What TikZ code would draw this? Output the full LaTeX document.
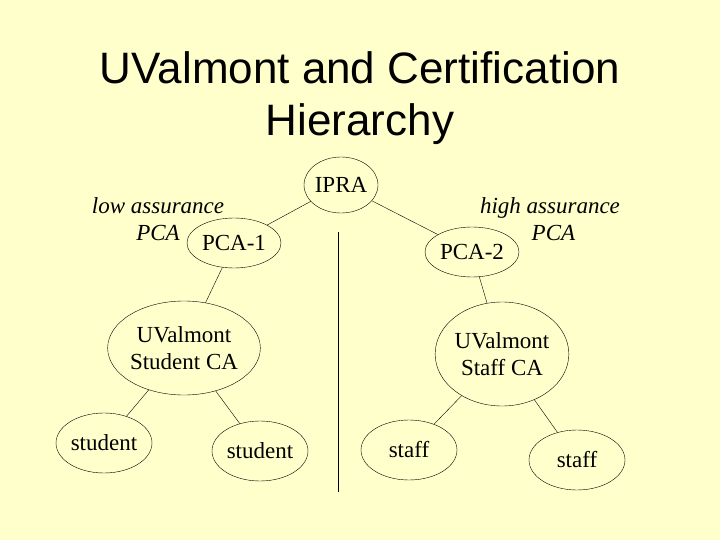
\documentclass[tikz,border=0pt]{standalone}
\usepackage{fontspec}
\setmainfont{Liberation Serif}
\newfontfamily\titlefont{Liberation Sans}
\usetikzlibrary{shapes.geometric}
\definecolor{bg}{RGB}{255,255,204}
\begin{document}
\begin{tikzpicture}[x=1pt,y=-1pt,
  ell/.style={draw,ellipse,thin,minimum width=#1,inner sep=0pt,align=center,font=\fontsize{23}{27}\selectfont},
  lbl/.style={font=\fontsize{23}{27}\selectfont\itshape,align=center},
  con/.style={draw,thin}]
\fill[bg] (0,0) rectangle (720,540);
\useasboundingbox (0,0) rectangle (720,540);
\node[font=\titlefont\fontsize{44}{52}\selectfont,align=center] (title) at (360,98) {UValmont and Certification\\Hierarchy};
\node[ell=74pt,minimum height=56pt] (ipra) at (341,185) {};
\node[font=\fontsize{23}{27}\selectfont] (ipraT) at (341,185) {IPRA};
\node[ell=94pt,minimum height=50pt] (p1) at (234,243) {PCA-1};
\node[ell=94pt,minimum height=50pt] (p2) at (472,252) {PCA-2};
\node[ell=130pt,minimum height=94pt] (sca) at (184,348) {UValmont\\Student CA};
\node[ell=126pt,minimum height=104pt] (tca) at (502,354) {UValmont\\Staff CA};
\node[ell=96pt,minimum height=60pt] (s1) at (104,443) {student};
\node[ell=96pt,minimum height=60pt] (s2) at (260,451) {student};
\node[ell=96pt,minimum height=60pt] (t1) at (409,450) {staff};
\node[ell=96pt,minimum height=60pt] (t2) at (577,460) {staff};
\node[lbl] (la) at (158,219) {low assurance\\PCA\hspace{3.4em}};
\node[lbl] (ha) at (550,219) {high assurance\\\hspace{0.3em}PCA};
\draw[con] (ipra) -- (p1);
\draw[con] (ipra) -- (p2);
\draw[con] (p1) -- (sca);
\draw[con] (p2) -- (tca);
\draw[con] (sca) -- (s1);
\draw[con] (sca) -- (s2);
\draw[con] (tca) -- (t1);
\draw[con] (tca) -- (t2);
\coordinate (vt) at (338,232);
\coordinate (vb) at (338,492);
\draw[con] (vt) -- (vb);
\end{tikzpicture}
\end{document}
